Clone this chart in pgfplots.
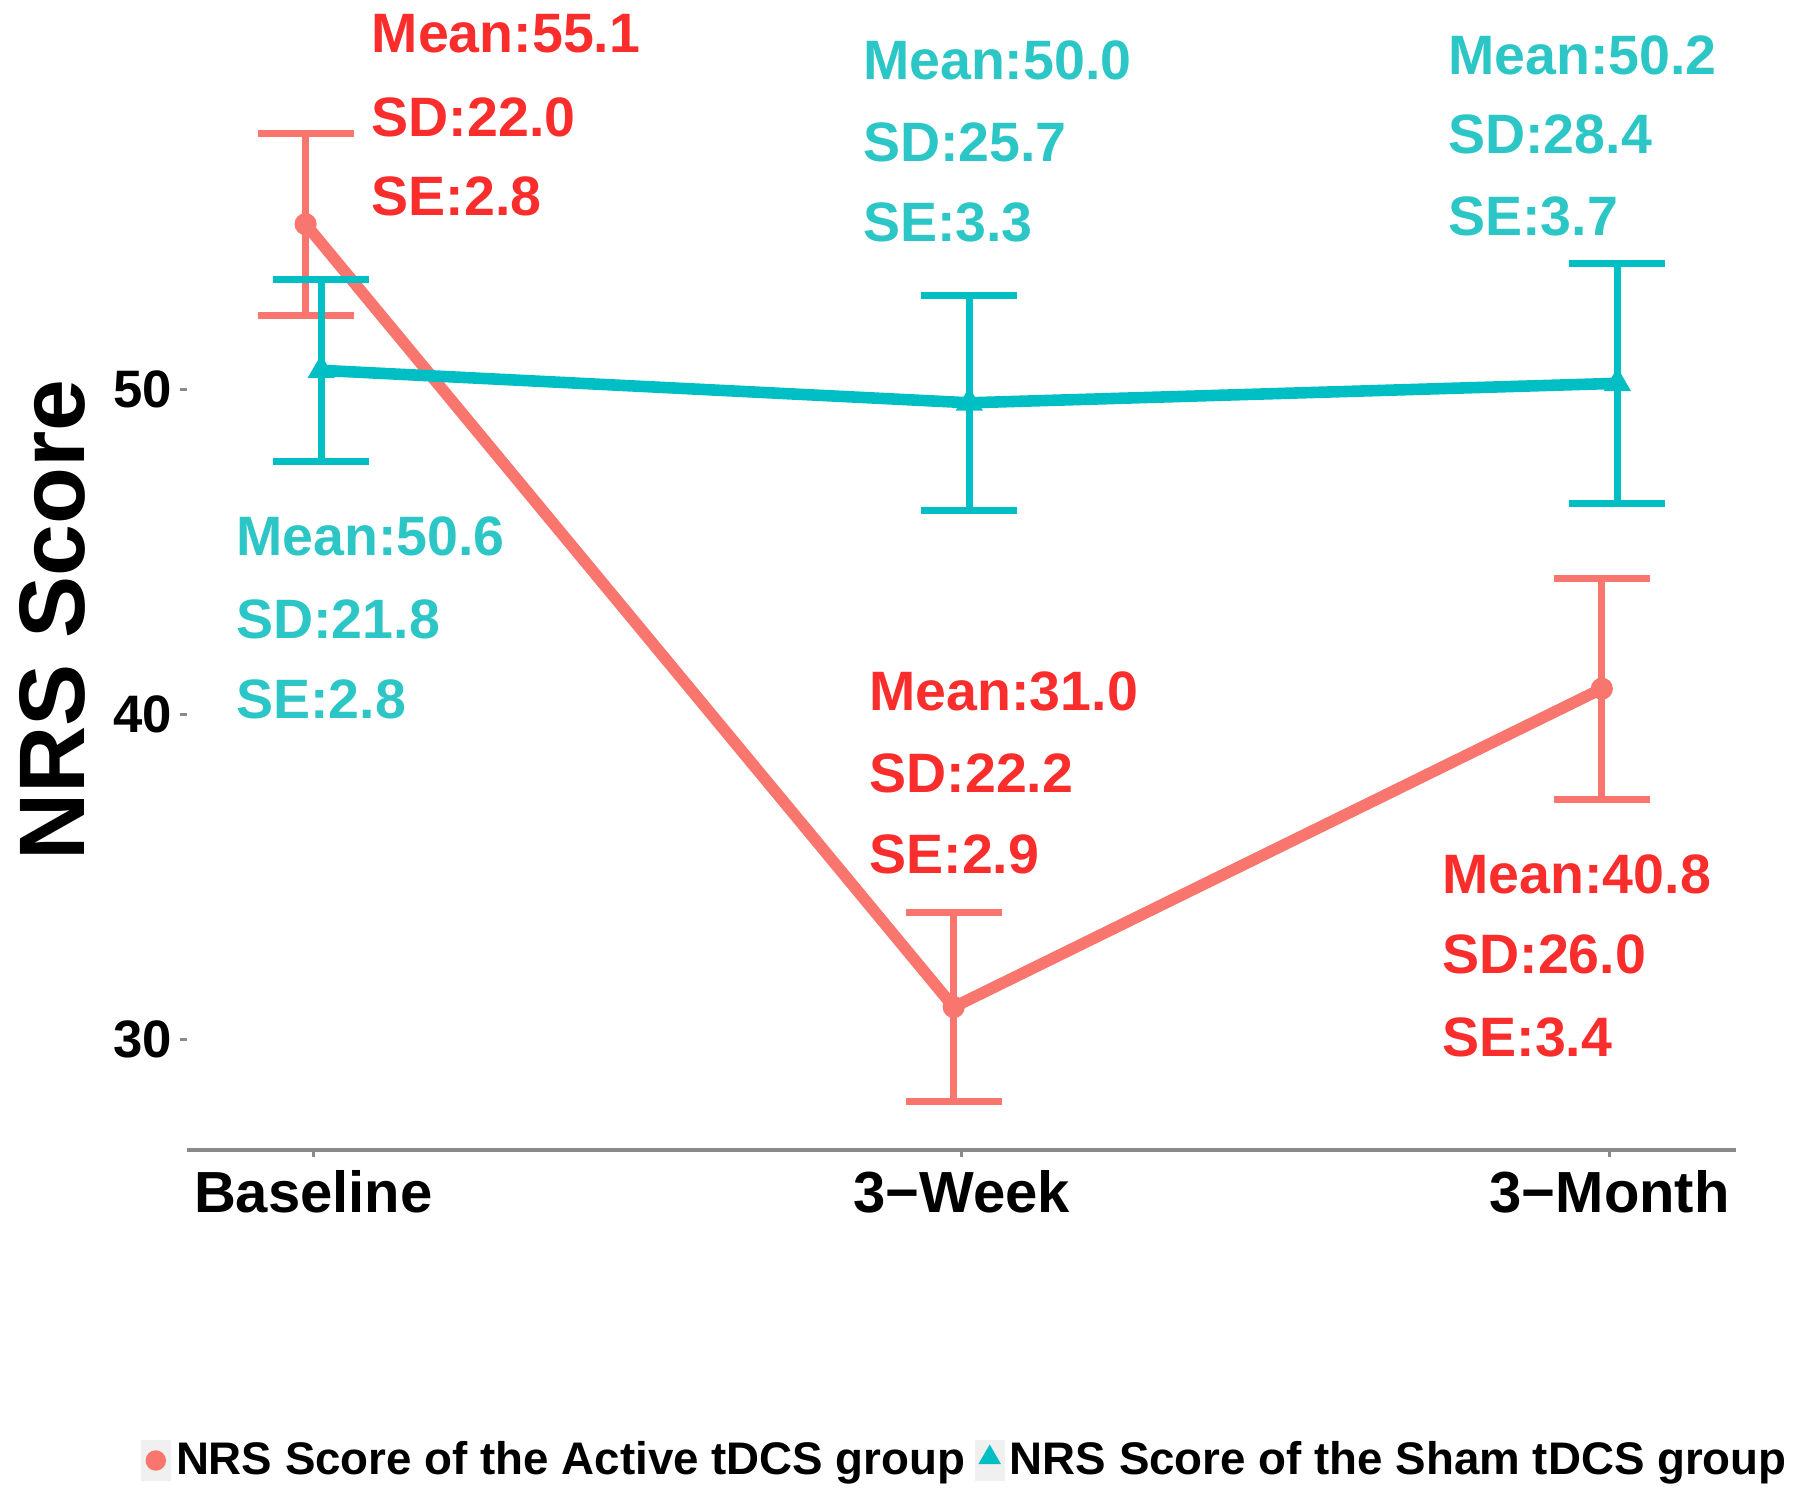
\documentclass[border=0pt]{standalone}
\usepackage{pgfplots}
\pgfplotsset{compat=1.18}
\usepackage{pgfplotstable}
\usepackage{fontspec}
\setmainfont{Liberation Sans}
\definecolor{lred}{HTML}{F8766D}
\definecolor{lteal}{HTML}{00BFC4}
\definecolor{tred}{HTML}{FA2D2D}
\definecolor{tteal}{HTML}{2CC6C6}
\definecolor{axgray}{HTML}{8A8A8A}

\pgfplotstableread{
x y e
-0.012 55.1 2.8
0.988 31.0 2.9
1.988 40.8 3.4
}\activedata
\pgfplotstableread{
x y e
0.012 50.6 2.8
1.012 49.6 3.3
2.012 50.2 3.7
}\shamdata

\begin{document}
\begin{tikzpicture}
\path[use as bounding box] (-1.87cm,-3.45cm) rectangle (16.13cm,11.5cm);
\begin{axis}[
  scale only axis, width=15.49cm, height=11.5cm,
  xmin=-0.195, xmax=2.195, ymin=26.6, ymax=62,
  axis x line=bottom, axis y line=left,
  y axis line style={draw=none},
  x axis line style={axgray, line width=1.3pt, -},
  xtick={0,1,2}, xticklabels={Baseline,3−Week,3−Month},
  ytick={30,40,50},
  tick style={axgray, line width=0.8pt},
  tick align=outside, major tick length=0.07cm,
  xticklabel style={font=\bfseries\fontsize{16.5}{16.5}\selectfont, text=black, inner sep=0pt, yshift=-0.13cm},
  yticklabel style={font=\bfseries\fontsize{15}{15}\selectfont, text=black, inner sep=0pt, xshift=-0.07cm},
  /pgf/number format/assume math mode=true,
  ylabel={NRS Score},
  ylabel style={font=\bfseries\fontsize{26.5}{26.5}\selectfont, at={(axis description cs:-0.087,0.461)}, anchor=center},
  clip=false,
  legend columns=2,
  legend style={draw=none, fill=none, at={(0.503,-0.27)}, anchor=center,
    font=\bfseries\fontsize{13}{13}\selectfont, inner sep=0pt,
    /tikz/every even column/.append style={column sep=0.04cm},
    nodes={inner sep=0.05cm}},
  legend cell align=left,
]
\addplot[forget plot, lred, line width=3.3pt, mark=*, mark size=2.9pt, mark options={solid, fill=lred, line width=0.5pt},
  error bars/.cd, y dir=both, y explicit,
  error bar style={line width=2pt, lred},
  error mark options={rotate=90, lred, line width=2pt, mark size=0.48cm}]
  table[x=x, y=y, y error=e] {\activedata};
\addplot[forget plot, lteal, line width=3.3pt, mark=triangle*, mark size=4pt, mark options={solid, fill=lteal, line width=0.5pt},
  error bars/.cd, y dir=both, y explicit,
  error bar style={line width=2pt, lteal},
  error mark options={rotate=90, lteal, line width=2pt, mark size=0.48cm}]
  table[x=x, y=y, y error=e] {\shamdata};

\addlegendimage{legend image code/.code={\fill[black!6] (0cm,-0.2cm) rectangle (0.29cm,0.2cm); \draw[lred] plot[only marks, mark=*, mark size=2.7pt, mark options={fill=lred}] coordinates {(0.145cm,0cm)};}}
\addlegendentry{NRS Score of the Active tDCS group}
\addlegendimage{legend image code/.code={\fill[black!6] (0cm,-0.2cm) rectangle (0.29cm,0.2cm); \draw[lteal] plot[only marks, mark=triangle*, mark size=3.3pt, mark options={fill=lteal}] coordinates {(0.145cm,0.03cm)};}}
\addlegendentry{NRS Score of the Sham tDCS group}

\tikzset{ann/.style={anchor=west, inner sep=0pt, font=\bfseries\fontsize{15.8}{15.8}\selectfont}}
% Active baseline
\node[ann, text=tred] at (axis cs:0.089,60.95) {Mean:55.1};
\node[ann, text=tred] at (axis cs:0.089,58.40) {SD:22.0};
\node[ann, text=tred] at (axis cs:0.089,55.94) {SE:2.8};
% Sham 3-week
\node[ann, text=tteal] at (axis cs:0.847,60.15) {Mean:50.0};
\node[ann, text=tteal] at (axis cs:0.847,57.63) {SD:25.7};
\node[ann, text=tteal] at (axis cs:0.847,55.14) {SE:3.3};
% Sham 3-month
\node[ann, text=tteal] at (axis cs:1.750,60.31) {Mean:50.2};
\node[ann, text=tteal] at (axis cs:1.750,57.85) {SD:28.4};
\node[ann, text=tteal] at (axis cs:1.750,55.35) {SE:3.7};
% Sham baseline
\node[ann, text=tteal] at (axis cs:-0.120,45.48) {Mean:50.6};
\node[ann, text=tteal] at (axis cs:-0.120,42.92) {SD:21.8};
\node[ann, text=tteal] at (axis cs:-0.120,40.46) {SE:2.8};
% Active 3-week
\node[ann, text=tred] at (axis cs:0.857,40.71) {Mean:31.0};
\node[ann, text=tred] at (axis cs:0.857,38.18) {SD:22.2};
\node[ann, text=tred] at (axis cs:0.857,35.69) {SE:2.9};
% Active 3-month
\node[ann, text=tred] at (axis cs:1.741,35.08) {Mean:40.8};
\node[ann, text=tred] at (axis cs:1.741,32.62) {SD:26.0};
\node[ann, text=tred] at (axis cs:1.741,30.06) {SE:3.4};
\end{axis}
\end{tikzpicture}
\end{document}
